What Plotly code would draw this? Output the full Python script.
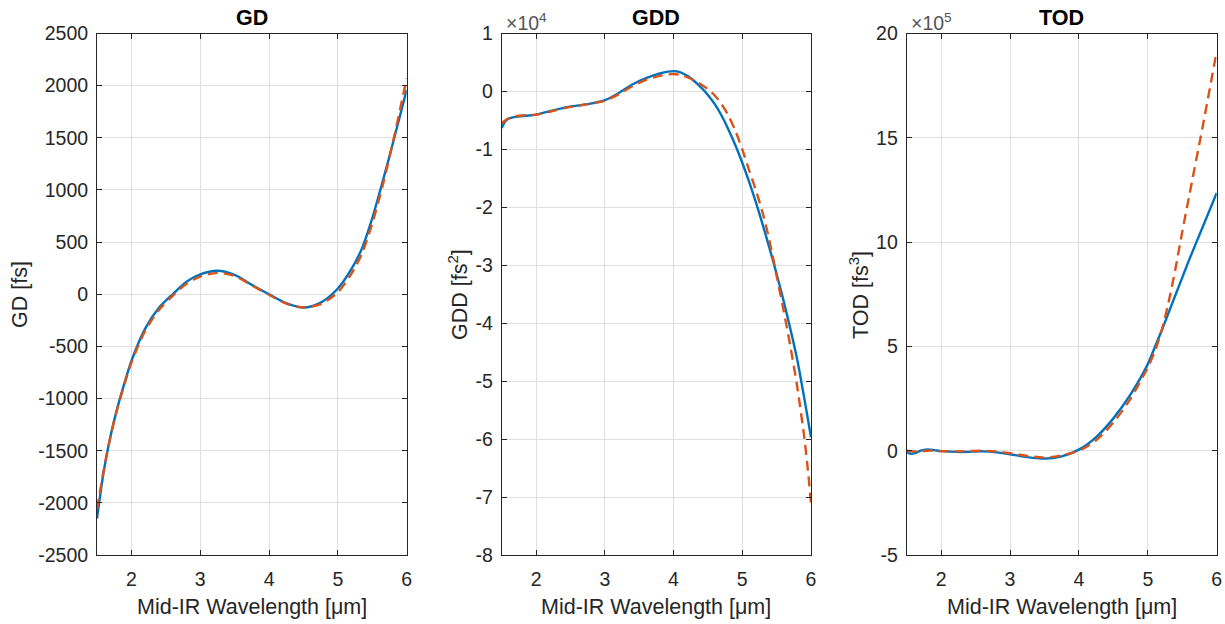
import plotly.graph_objects as go

# ---------------- data ----------------
wl_gd = [1.5, 1.6, 1.7, 1.8, 1.9, 2.0, 2.2, 2.4, 2.6, 2.8, 3.0, 3.25, 3.5, 3.75,
         4.0, 4.25, 4.5, 4.75, 5.0, 5.2, 5.35, 5.5, 5.65, 5.8, 6.0]
gd_fit = [-2150, -1690, -1350, -1080, -850, -640, -330, -130, 0, 120, 190, 225, 185, 90,
          0, -85, -127, -80, 55, 245, 440, 730, 1080, 1450, 1960]
gd_ref = [-2060, -1680, -1350, -1085, -860, -655, -350, -150, -15, 100, 170, 205, 175, 85,
          -5, -90, -125, -95, 20, 200, 390, 680, 1040, 1460, 2070]

wl_gdd = [1.5, 1.55, 1.6, 1.7, 1.85, 2.0, 2.2, 2.45, 2.75, 3.0, 3.2, 3.4, 3.6, 3.8,
          4.0, 4.1, 4.2, 4.3, 4.4, 4.5, 4.6, 4.7, 4.8, 4.9, 5.0, 5.1, 5.2, 5.3, 5.4,
          5.5, 5.6, 5.7, 5.8, 5.9, 5.95, 6.0]
gdd_fit = [-6300, -5200, -4700, -4400, -4200, -4000, -3400, -2700, -2200, -1500, -300,
           1200, 2300, 3100,
           3500, 3300, 2700, 1800, 700, -600, -2200, -4200, -6600, -9300, -12300,
           -15600, -19200, -23100, -27200, -31500, -36100, -41000, -46300, -52800,
           -56200, -59700]
gdd_ref = [-5500, -5000, -4700, -4300, -4100, -4000, -3500, -2800, -2200, -1600, -500,
           900, 2000, 2700,
           3000, 2850, 2450, 1900, 1200, 400, -700, -2200, -4200, -6800, -10000,
           -13600, -17100, -21100, -26000, -31800, -37700, -44000, -51000, -59500,
           -64800, -71000]

wl_tod = [1.5, 1.55, 1.62, 1.7, 1.8, 1.9, 2.0, 2.3, 2.6, 2.8, 3.0, 3.25, 3.5, 3.75, 4.0,
          4.25, 4.5, 4.75, 5.0, 5.1, 5.2, 5.3, 5.4, 5.5, 5.6, 5.8, 6.0]
tod_fit = [-0.05e5, -0.14e5, -0.12e5, 0.0, 0.06e5, 0.03e5, -0.02e5, -0.06e5, -0.03e5,
           -0.08e5, -0.17e5, -0.31e5, -0.38e5, -0.27e5, 0.05e5, 0.65e5, 1.55e5, 2.7e5,
           4.15e5, 4.95e5, 5.75e5, 6.6e5, 7.45e5, 8.3e5, 9.15e5, 10.75e5, 12.36e5]
tod_ref = [0.0, -0.02e5, -0.03e5, -0.02e5, 0.0, 0.0, -0.02e5, -0.03e5, 0.0, -0.04e5,
           -0.12e5, -0.25e5, -0.33e5, -0.22e5, 0.0, 0.5e5, 1.35e5, 2.5e5, 4.0e5, 4.75e5,
           5.75e5, 7.1e5, 8.7e5, 10.5e5, 12.2e5, 15.6e5, 19.15e5]

x_ticks = [2, 3, 4, 5, 6]
gd_ticks = [-2500, -2000, -1500, -1000, -500, 0, 500, 1000, 1500, 2000, 2500]
gdd_ticks = [-80000, -70000, -60000, -50000, -40000, -30000, -20000, -10000, 0, 10000]
gdd_ticktext = ["-8", "-7", "-6", "-5", "-4", "-3", "-2", "-1", "0", "1"]
tod_ticks = [-5e5, 0, 5e5, 10e5, 15e5, 20e5]
tod_ticktext = ["-5", "0", "5", "10", "15", "20"]

titles = ["GD", "GDD", "TOD"]
ylabels = ["GD [fs]", "GDD [fs<sup>2</sup>]", "TOD [fs<sup>3</sup>]"]
xlabel = "Mid-IR Wavelength [μm]"

# ---------------- style ----------------
W, H = 1225, 624
BLUE = "#0072BD"
ORANGE = "#D95319"
AX = "#262626"
GRID = "#dfdfdf"
FONT = "Liberation Sans, Arial, sans-serif"
TICK_FS = 19.5
LAB_FS = 21.5
TIT_FS = 21.5

px_left = [97, 501.7, 906.7]
px_right = [406.7, 811, 1216.7]
px_top, px_bottom = 33.5, 555

fig = go.Figure()

series = [(wl_gd, gd_fit, gd_ref), (wl_gdd, gdd_fit, gdd_ref), (wl_tod, tod_fit, tod_ref)]
for i, (xs, fit, ref) in enumerate(series):
    xa = "x" if i == 0 else f"x{i+1}"
    ya = "y" if i == 0 else f"y{i+1}"
    fig.add_trace(go.Scatter(x=xs, y=fit, mode="lines", xaxis=xa, yaxis=ya,
                             line=dict(color=BLUE, width=2.4, shape="spline", smoothing=0.8),
                             showlegend=False))
    fig.add_trace(go.Scatter(x=xs, y=ref, mode="lines", xaxis=xa, yaxis=ya,
                             line=dict(color=ORANGE, width=2.4, dash="10px,6px",
                                       shape="spline", smoothing=0.8),
                             showlegend=False))

ydom = [1 - px_bottom / H, 1 - px_top / H]
yranges = [[-2500, 2500], [-80000, 10000], [-5e5, 20e5]]
yticks = [(gd_ticks, [str(v) for v in gd_ticks]), (gdd_ticks, gdd_ticktext),
          (tod_ticks, tod_ticktext)]

layout = dict(width=W, height=H, paper_bgcolor="white", plot_bgcolor="white",
              margin=dict(l=0, r=0, t=0, b=0), font=dict(family=FONT, color=AX),
              showlegend=False)
annotations = []
for i in range(3):
    sfx = "" if i == 0 else str(i + 1)
    dom = [px_left[i] / W, px_right[i] / W]
    layout["xaxis" + sfx] = dict(
        domain=dom, range=[1.5, 6], tickvals=x_ticks, ticktext=[str(v) for v in x_ticks],
        showgrid=True, gridcolor=GRID, gridwidth=1, zeroline=False,
        showline=True, linecolor=AX, linewidth=1, mirror="ticks",
        ticks="inside", ticklen=5, tickcolor=AX, tickwidth=1,
        tickfont=dict(size=TICK_FS, color=AX, family=FONT),
        ticklabelstandoff=7,
        anchor="y" + sfx, automargin=False)
    layout["yaxis" + sfx] = dict(
        domain=ydom, range=yranges[i], tickvals=yticks[i][0], ticktext=yticks[i][1],
        showgrid=True, gridcolor=GRID, gridwidth=1, zeroline=False,
        showline=True, linecolor=AX, linewidth=1, mirror="ticks",
        ticks="inside", ticklen=5, tickcolor=AX, tickwidth=1,
        tickfont=dict(size=TICK_FS, color=AX, family=FONT),
        ticklabelstandoff=4,
        anchor="x" + sfx, automargin=False)
    cx = (px_left[i] + px_right[i]) / 2 / W
    annotations.append(dict(text=f"<b>{titles[i]}</b>", x=cx, y=1 - 17.5 / H,
                            xref="paper", yref="paper", showarrow=False,
                            xanchor="center", yanchor="middle",
                            font=dict(size=TIT_FS, color="black", family=FONT)))
    annotations.append(dict(text=xlabel, x=cx, y=1 - 607 / H, xref="paper", yref="paper",
                            showarrow=False, xanchor="center", yanchor="middle",
                            font=dict(size=LAB_FS, color=AX, family=FONT)))

ylab_x = [20, 458, 859]
for i in range(3):
    annotations.append(dict(text=ylabels[i], x=ylab_x[i] / W, y=1 - 295 / H,
                            xref="paper", yref="paper", showarrow=False, textangle=-90,
                            xanchor="center", yanchor="middle",
                            font=dict(size=LAB_FS, color=AX, family=FONT)))

for i, e in [(1, "4"), (2, "5")]:
    annotations.append(dict(text=f"×10<sup>{e}</sup>", x=(px_left[i] + 2) / W,
                            y=1 - 22 / H, xref="paper", yref="paper", showarrow=False,
                            xanchor="left", yanchor="middle",
                            font=dict(size=TICK_FS, color="#555555", family=FONT)))

layout["annotations"] = annotations
fig.update_layout(**layout)
fig.write_html("out.html", config={"displayModeBar": False},
               post_script="document.body.style.margin='0px';")
